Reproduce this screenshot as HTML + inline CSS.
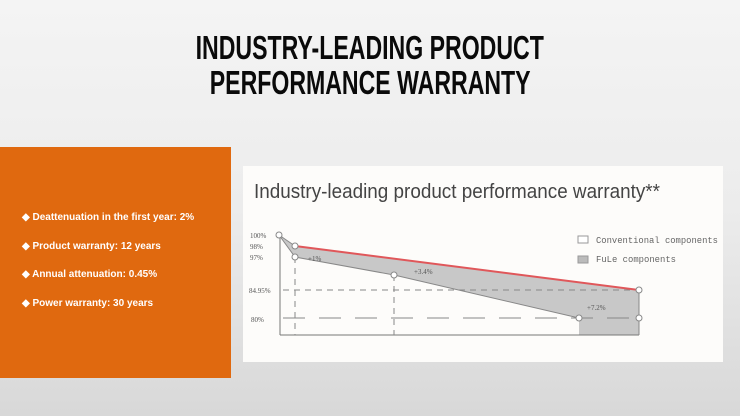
<!DOCTYPE html>
<html><head><style>
body{margin:0;width:740px;height:416px;overflow:hidden;position:relative;font-family:"Liberation Sans",sans-serif;background:linear-gradient(180deg,#f4f4f4 0%,#ececec 50%,#d8d8d8 100%);}
.t{position:absolute;left:0;width:740px;text-align:center;font-weight:bold;font-size:33px;color:#0a0a0a;line-height:35px;}
.t span{display:inline-block;transform:scaleX(0.70);}
.box{position:absolute;left:0;top:147px;width:231px;height:231px;background:#e0690f;color:#fff;font-size:10px;font-weight:bold;}
.box div{position:absolute;left:22px;}
.chart{position:absolute;left:243px;top:166px;width:480px;height:196px;background:#fdfcfa;}
</style></head><body>
<div class="t" style="top:30px"><span>INDUSTRY-LEADING PRODUCT</span></div>
<div class="t" style="top:65px"><span>PERFORMANCE WARRANTY</span></div>
<div class="box">
<div style="top:65px">◆ Deattenuation in the first year: 2%</div>
<div style="top:94px">◆ Product warranty: 12 years</div>
<div style="top:122px">◆ Annual attenuation: 0.45%</div>
<div style="top:151px">◆ Power warranty: 30 years</div>
</div>
<div class="chart"></div>
<svg style="position:absolute;left:0;top:0" width="740" height="416">
<text x="254" y="198" font-size="20" fill="#444" font-family="Liberation Sans, sans-serif" textLength="406" lengthAdjust="spacingAndGlyphs">Industry-leading product performance warranty**</text>
<polygon points="279,235 295,246 639,290 639,335 579,335 579,318 394,275 295,257" fill="#c8c8c8"/>
<line x1="280" y1="235" x2="280" y2="335" stroke="#777" stroke-width="1"/>
<line x1="280" y1="335" x2="639" y2="335" stroke="#777" stroke-width="1"/>
<line x1="283" y1="290" x2="639" y2="290" stroke="#888" stroke-dasharray="6,5"/>
<line x1="283" y1="318" x2="639" y2="318" stroke="#888" stroke-dasharray="22,14"/>
<line x1="295" y1="257" x2="295" y2="335" stroke="#888" stroke-dasharray="6,5"/>
<line x1="394" y1="275" x2="394" y2="335" stroke="#888" stroke-dasharray="6,5"/>
<polyline points="279,235 295,257 394,275 579,318" fill="none" stroke="#888"/>
<line x1="279" y1="235" x2="295" y2="246" stroke="#888"/>
<line x1="295" y1="246" x2="639" y2="290" stroke="#e0575a" stroke-width="2"/>
<line x1="639" y1="290" x2="639" y2="335" stroke="#888"/>
<g fill="#fff" stroke="#888">
<circle cx="279" cy="235" r="3"/><circle cx="295" cy="246" r="3"/><circle cx="295" cy="257" r="3"/>
<circle cx="394" cy="275" r="3"/><circle cx="639" cy="290" r="3"/><circle cx="579" cy="318" r="3"/><circle cx="639" cy="318" r="3"/>
</g>
<g font-size="7" fill="#555" font-family="Liberation Serif, serif">
<text x="250" y="238">100%</text><text x="250" y="249">98%</text><text x="250" y="260">97%</text>
<text x="249" y="293">84.95%</text><text x="251" y="322">80%</text>
<text x="308" y="261">+1%</text><text x="414" y="274">+3.4%</text><text x="587" y="310">+7.2%</text>
</g>
<rect x="578" y="236" width="10" height="7" fill="#fff" stroke="#999"/>
<rect x="578" y="256" width="10" height="7" fill="#bbb" stroke="#999"/>
<g font-size="9" fill="#666" font-family="Liberation Mono, monospace">
<text x="596" y="243" textLength="122" lengthAdjust="spacingAndGlyphs">Conventional components</text>
<text x="596" y="262" textLength="80" lengthAdjust="spacingAndGlyphs">FuLe components</text>
</g>
</svg>
</body></html>
